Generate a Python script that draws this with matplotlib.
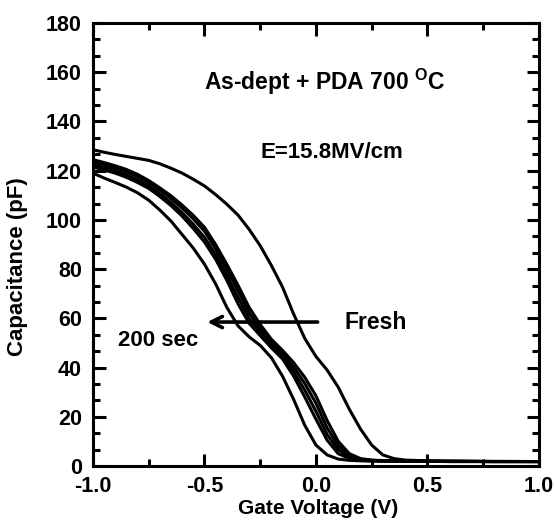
import numpy as np
import matplotlib
matplotlib.use('Agg')
import matplotlib.pyplot as plt
from matplotlib.ticker import MultipleLocator, AutoMinorLocator

plt.rcParams['font.family'] = ['Liberation Sans', 'DejaVu Sans']
plt.rcParams['font.weight'] = 'bold'
plt.rcParams['mathtext.fontset'] = 'custom'
plt.rcParams['mathtext.rm'] = 'Liberation Sans:bold'
plt.rcParams['mathtext.bf'] = 'Liberation Sans:bold'

# gate voltage grid (V)
voltage = [-1.0, -0.95, -0.9, -0.85, -0.8, -0.75, -0.7, -0.65, -0.6, -0.55,
           -0.5, -0.45, -0.4, -0.35, -0.3, -0.25, -0.2, -0.15, -0.1, -0.05,
           0.0, 0.05, 0.1, 0.15, 0.2, 0.25, 0.3, 0.35, 0.4, 0.5, 0.6, 0.8, 1.0]

# capacitance (pF)
fresh = [128.5, 127.5, 126.6, 125.8, 125.0, 124.2, 122.8, 121.0, 119.0, 116.5,
         113.8, 110.3, 106.4, 102.0, 96.2, 89.5, 81.5, 72.7, 61.7, 51.8,
         44.5, 39.0, 32.0, 23.0, 15.0, 8.5, 4.5, 3.0, 2.4, 2.1, 2.0, 1.9, 1.8]
stress_a = [124.5, 123.3, 122.0, 120.5, 118.5, 116.0, 113.0, 109.8, 106.0, 101.8,
            97.0, 90.0, 82.0, 73.5, 64.5, 57.5, 51.5, 47.0, 42.0, 36.0,
            28.5, 18.5, 10.0, 5.0, 3.0, 2.4, 2.2, 2.1, 2.0, 1.9, 1.9, 1.8, 1.8]
stress_b = [123.6, 122.4, 121.1, 119.6, 117.6, 115.1, 112.0, 108.7, 104.8, 100.4,
            95.4, 88.3, 80.0, 71.3, 62.3, 55.8, 50.3, 45.8, 40.2, 33.5,
            25.5, 15.5, 8.2, 4.2, 2.7, 2.3, 2.1, 2.0, 2.0, 1.9, 1.9, 1.8, 1.8]
stress_c = [122.5, 121.3, 120.0, 118.4, 116.3, 113.8, 110.6, 107.1, 102.9, 98.2,
            92.9, 86.0, 77.6, 68.6, 60.0, 54.4, 49.2, 44.7, 38.3, 30.8,
            22.2, 12.8, 6.6, 3.6, 2.5, 2.2, 2.1, 2.0, 2.0, 1.9, 1.9, 1.8, 1.8]
stress_d = [121.5, 120.3, 119.0, 117.3, 115.2, 112.8, 109.5, 105.8, 101.5, 96.5,
            91.0, 84.0, 75.5, 66.0, 58.0, 53.0, 48.0, 43.5, 36.5, 28.0,
            19.0, 10.5, 5.0, 3.0, 2.3, 2.1, 2.0, 2.0, 1.9, 1.9, 1.8, 1.8, 1.8]
stress_200s = [119.0, 117.0, 115.2, 113.3, 111.0, 108.0, 104.0, 99.5, 94.0, 88.5,
               82.0, 74.0, 64.5, 57.0, 52.5, 49.0, 44.0, 36.5, 27.0, 16.5,
               8.5, 4.5, 2.8, 2.3, 2.1, 2.0, 2.0, 1.9, 1.9, 1.9, 1.8, 1.8, 1.8]

curves = [fresh, stress_a, stress_b, stress_c, stress_d, stress_200s]

fig = plt.figure(figsize=(5.55, 5.24), dpi=100)
ax = fig.add_axes([0.1676, 0.1107, 0.8034, 0.8453])

for c in curves:
    ax.plot(voltage, c, color='black', lw=2.2, solid_capstyle='round',
            solid_joinstyle='round')

ax.set_xlim(-1.0, 1.0)
ax.set_ylim(0, 180)
ax.xaxis.set_major_locator(MultipleLocator(0.5))
ax.xaxis.set_minor_locator(AutoMinorLocator(2))
ax.yaxis.set_major_locator(MultipleLocator(20))
ax.yaxis.set_minor_locator(AutoMinorLocator(3))
ax.xaxis.set_major_formatter(plt.FormatStrFormatter('%.1f'))

for s in ax.spines.values():
    s.set_linewidth(2.2)
ax.tick_params(which='both', direction='in', top=True, right=True, width=2.2)
ax.tick_params(which='major', length=9)
ax.tick_params(which='minor', length=5)
ax.tick_params(axis='x', which='major', labelsize=15.5, pad=7)
ax.tick_params(axis='y', which='major', labelsize=15.5, pad=8)

ax.set_xlabel('Gate Voltage (V)', fontsize=15, fontweight='bold')
ax.xaxis.set_label_coords(0.505, -0.074)
ax.set_ylabel('Capacitance (pF)', fontsize=16, fontweight='bold')
ax.yaxis.set_label_coords(-0.146, 0.45)

ax.text(0.04, 156, r'As-dept + PDA 700 $^{\mathrm{O}}$C', fontsize=16.5,
        fontweight='bold', ha='center', va='center')
ax.text(0.07, 127.5, 'E=15.8MV/cm', fontsize=16, fontweight='bold',
        ha='center', va='center')
ax.text(0.13, 58.5, 'Fresh', fontsize=16.5, fontweight='bold', ha='left', va='center')
ax.text(-0.71, 51, '200 sec', fontsize=16, fontweight='bold',
        ha='center', va='center')
ax.annotate('', xy=(-0.5, 58.5), xytext=(0.02, 58.5),
            arrowprops=dict(arrowstyle='->,head_length=0.8,head_width=0.4',
                            color='black', lw=2.6))

fig.savefig('out.png', dpi=100)
